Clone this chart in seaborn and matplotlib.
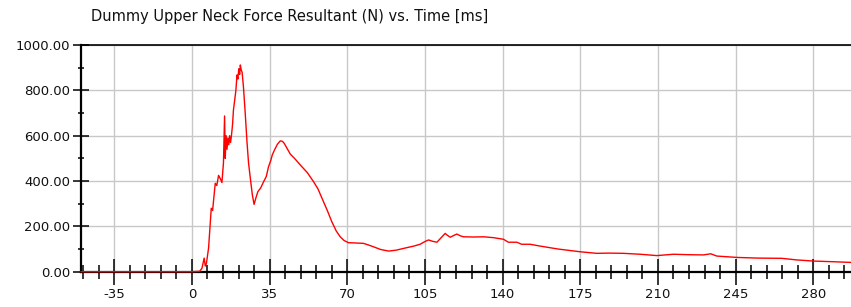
import matplotlib
matplotlib.use("Agg")
import matplotlib.pyplot as plt
from matplotlib.ticker import MultipleLocator, FormatStrFormatter
import pandas as pd
import seaborn as sns

# time [ms] and force resultant [N]
time_ms = [-50, 0, 3.5, 4.5, 5.5, 6.0, 6.5, 7.5, 8.7, 9.3, 10.5, 11.2, 12, 12.8, 13.5,
           14.2, 14.7, 15.0, 15.4, 15.8, 16.2, 16.6, 17.0, 17.4, 17.8, 18.3, 18.7, 19.3,
           19.8, 20.3, 20.7, 21.1, 21.5, 21.8, 22.2, 22.6, 23.2, 24.0, 24.8, 25.5, 26.3,
           27.2, 28.0, 28.8, 29.7, 31, 32.3, 33.5, 34.5, 35.5, 36.2, 37.2, 38.5, 39.8,
           40.8, 41.6, 42.8, 44.3, 46.5, 48.8, 52, 54.8, 56.8, 58.6, 61, 63, 65, 66.8,
           68.5, 70.5, 73, 77.3, 79.5, 81.8, 85, 88.6, 92, 96.8, 100, 102.8, 105, 106.6,
           108.5, 110.4, 112.3, 114.1, 115.2, 116.4, 118, 119.4, 121, 122.4, 127, 131.4,
           136, 140.4, 142.6, 146.4, 148.6, 152.4, 156.9, 165, 174.9, 182.4, 188, 194.4,
           202, 209.5, 217, 224, 230.5, 233.8, 236.5, 245.5, 255, 265.8, 272.5, 280, 289, 297]
force_n = [0, 0, 2, 15, 60, 25, 35, 105, 280, 270, 390, 380, 425, 410, 393,
           480, 687, 500, 600, 540, 590, 560, 600, 570, 600, 650, 713, 760,
           800, 868, 850, 895, 870, 912, 890, 880, 816, 700, 573, 480, 413,
           340, 297, 325, 353, 370, 397, 420, 463, 490, 515, 537, 562, 577,
           575, 566, 545, 519, 497, 471, 437, 397, 365, 324, 270, 221, 180, 154,
           138, 128, 127, 125, 118, 110, 98, 91, 95, 106, 113, 121, 133, 140,
           134, 130, 150, 169, 160, 152, 160, 166, 158, 154, 153, 154,
           150, 143, 130, 130, 121, 121, 113, 100, 88, 81, 82, 81,
           77, 71, 77, 75, 74, 79, 69, 63, 60, 59, 52, 47, 44, 41]

df = pd.DataFrame({"t": time_ms, "F": force_n})

sns.set_style("white")
plt.rcParams["axes.unicode_minus"] = False
fig = plt.figure(figsize=(8.51, 3.07), dpi=100)
ax = fig.add_axes([81 / 851, 35.3 / 307, 770 / 851, 226.7 / 307])

sns.lineplot(data=df, x="t", y="F", color="#ff0000", linewidth=1.0, ax=ax, zorder=5)
ax.lines[0].set_clip_on(False)

ax.set_xlim(-50, 297)
ax.set_ylim(0, 1000)
ax.set_xlabel("")
ax.set_ylabel("")

ax.xaxis.set_major_locator(MultipleLocator(35))
ax.xaxis.set_minor_locator(MultipleLocator(7))
ax.yaxis.set_major_locator(MultipleLocator(200))
ax.yaxis.set_minor_locator(MultipleLocator(100))
ax.yaxis.set_major_formatter(FormatStrFormatter("%.2f"))

ax.grid(True, which="major", color="#c8c8c8", linewidth=1.0)
ax.set_axisbelow(True)

for side in ["left", "bottom"]:
    ax.spines[side].set_color("black")
    ax.spines[side].set_linewidth(1.6)
ax.spines["top"].set_color("black")
ax.spines["top"].set_linewidth(1.2)
ax.spines["right"].set_visible(False)

ax.tick_params(axis="x", which="major", bottom=True, direction="inout", length=19, width=1.1,
               color="black", labelsize=9.5, pad=2, labelcolor="#111111")
ax.tick_params(axis="x", which="minor", bottom=True, direction="inout", length=9.5, width=1.1,
               color="black")
ax.tick_params(axis="y", which="major", left=True, direction="inout", length=12, width=1.1,
               color="black", labelsize=9.5, pad=2, labelcolor="#111111")
ax.tick_params(axis="y", which="minor", left=True, direction="inout", length=5, width=1.1,
               color="black")

fig.text(91 / 851, 1 - 17 / 307, "Dummy Upper Neck Force Resultant (N) vs. Time [ms]",
         fontsize=10.5, ha="left", va="center", color="#111111")

fig.savefig("out.png", dpi=100)
